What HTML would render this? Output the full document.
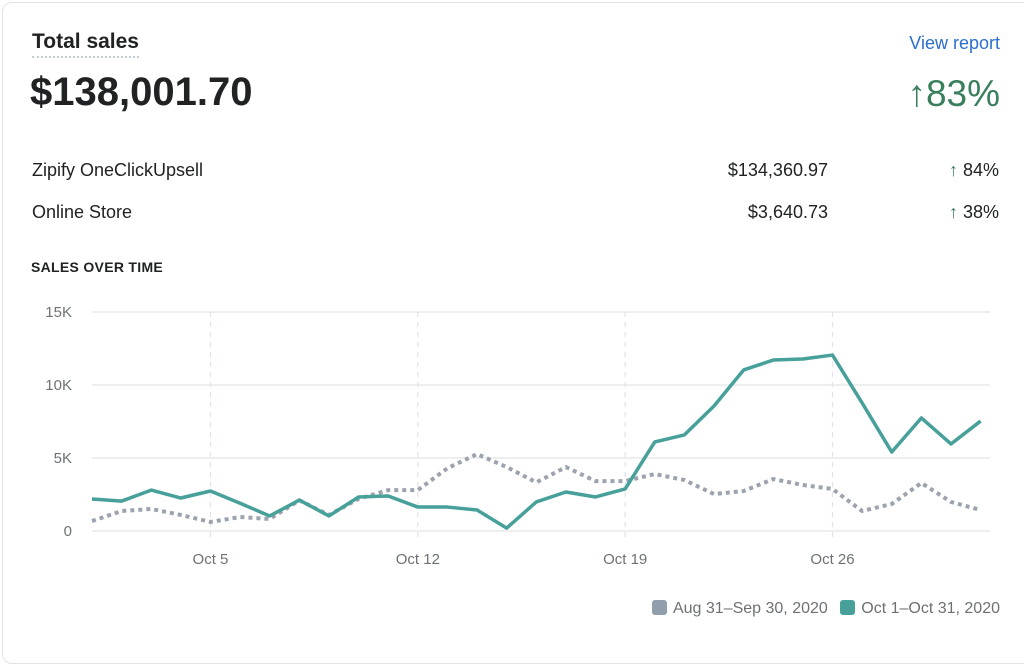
<!DOCTYPE html>
<html><head><meta charset="utf-8"><style>
body{margin:0;width:1024px;height:646px;background:#fff;font-family:"Liberation Sans",sans-serif;color:#202223;overflow:hidden;position:relative}
.card{position:absolute;left:2px;top:2px;width:1040px;height:660px;border:1px solid #e1e3e5;border-radius:10px}
.a{position:absolute;white-space:nowrap}
</style></head><body>
<div class="card"></div>
<div class="a" style="left:32px;top:30px;font-size:21px;font-weight:bold;border-bottom:2px dotted #c4cdd5;padding-bottom:2px">Total sales</div>
<div class="a" style="right:24px;top:33px;font-size:18px;color:#2c6ecb">View report</div>
<div class="a" style="left:30px;top:70px;font-size:40px;font-weight:bold">$138,001.70</div>
<div class="a" style="right:24px;top:73px;font-size:37px;color:#3a7f5c">↑83%</div>
<div class="a" style="left:32px;top:160px;font-size:18px">Zipify OneClickUpsell</div>
<div class="a" style="right:196px;top:160px;font-size:18px">$134,360.97</div>
<div class="a" style="right:25px;top:160px;font-size:18px"><span style="color:#3a7f5c">↑</span> 84%</div>
<div class="a" style="left:32px;top:202px;font-size:18px">Online Store</div>
<div class="a" style="right:196px;top:202px;font-size:18px">$3,640.73</div>
<div class="a" style="right:25px;top:202px;font-size:18px"><span style="color:#3a7f5c">↑</span> 38%</div>
<div class="a" style="left:31px;top:259px;font-size:14px;font-weight:bold;letter-spacing:0.3px">SALES OVER TIME</div>
<svg id="chart" width="1024" height="646" style="position:absolute;left:0;top:0"></svg>
<div class="a" style="right:24px;top:600px;font-size:16px;color:#6d7175">
<span><span style="display:inline-block;width:15px;height:15px;background:#919eab;border-radius:3px;vertical-align:-2px;margin-right:6px"></span>Aug 31–Sep 30, 2020</span>
<span style="margin-left:8px"><span style="display:inline-block;width:15px;height:15px;background:#47a09a;border-radius:3px;vertical-align:-2px;margin-right:6px"></span>Oct 1–Oct 31, 2020</span>
</div>
<script>
const days=[1,2,3,4,5,6,7,8,9,10,11,12,13,14,15,16,17,18,19,20,21,22,23,24,25,26,27,28,29,30,31];
const current=[2190,2050,2800,2260,2740,1900,1030,2120,1030,2330,2400,1640,1640,1440,200,1990,2670,2330,2880,6100,6580,8560,11030,11710,11780,12050,8770,5410,7740,5960,7530];
const previous=[680,1370,1510,1100,620,960,820,2100,1100,2200,2800,2800,4300,5270,4380,3330,4380,3420,3420,3900,3490,2530,2740,3560,3150,2880,1370,1850,3290,1990,1440];
const yTicks=[0,5000,10000,15000];
const yTickLabels=["0","5K","10K","15K"];
const xTickDays=[5,12,19,26];
const xTickLabels=["Oct 5","Oct 12","Oct 19","Oct 26"];
const NS="http://www.w3.org/2000/svg",svg=document.getElementById('chart');
const x=d=>92+(d-1)*29.62, y=v=>531-v/15000*219;
function mk(t,a){const e=document.createElementNS(NS,t);for(const k in a)e.setAttribute(k,a[k]);svg.appendChild(e);return e;}
yTicks.forEach((v,i)=>{
 const l=mk('line',{x1:92,x2:990,y1:y(v),y2:y(v),stroke:'#e1e3e5','stroke-width':1.3});
 
 
 const t=mk('text',{x:72,y:y(v)+5,'text-anchor':'end','font-size':15,fill:'#6d7175','font-family':'Liberation Sans, sans-serif'});
 t.textContent=yTickLabels[i];
 
 
});
xTickDays.forEach((d,i)=>{
 const l=mk('line',{x1:x(d),x2:x(d),y1:312,y2:540,stroke:'#dfe3e8','stroke-width':1.2,'stroke-dasharray':'5,5'});
 
 
 const t=mk('text',{x:x(d),y:564,'text-anchor':'middle','font-size':15,fill:'#6d7175','font-family':'Liberation Sans, sans-serif'});
 t.textContent=xTickLabels[i];
 
 
});
const pp=mk('polyline',{points:days.map((d,i)=>x(d)+','+y(previous[i])).join(' '),fill:'none',stroke:'#9da3ae','stroke-width':4,'stroke-dasharray':'4,4'});


const cp=mk('polyline',{points:days.map((d,i)=>x(d)+','+y(current[i])).join(' '),fill:'none',stroke:'#47a09a','stroke-width':3.5,'stroke-linejoin':'round'});


</script>
</body></html>
